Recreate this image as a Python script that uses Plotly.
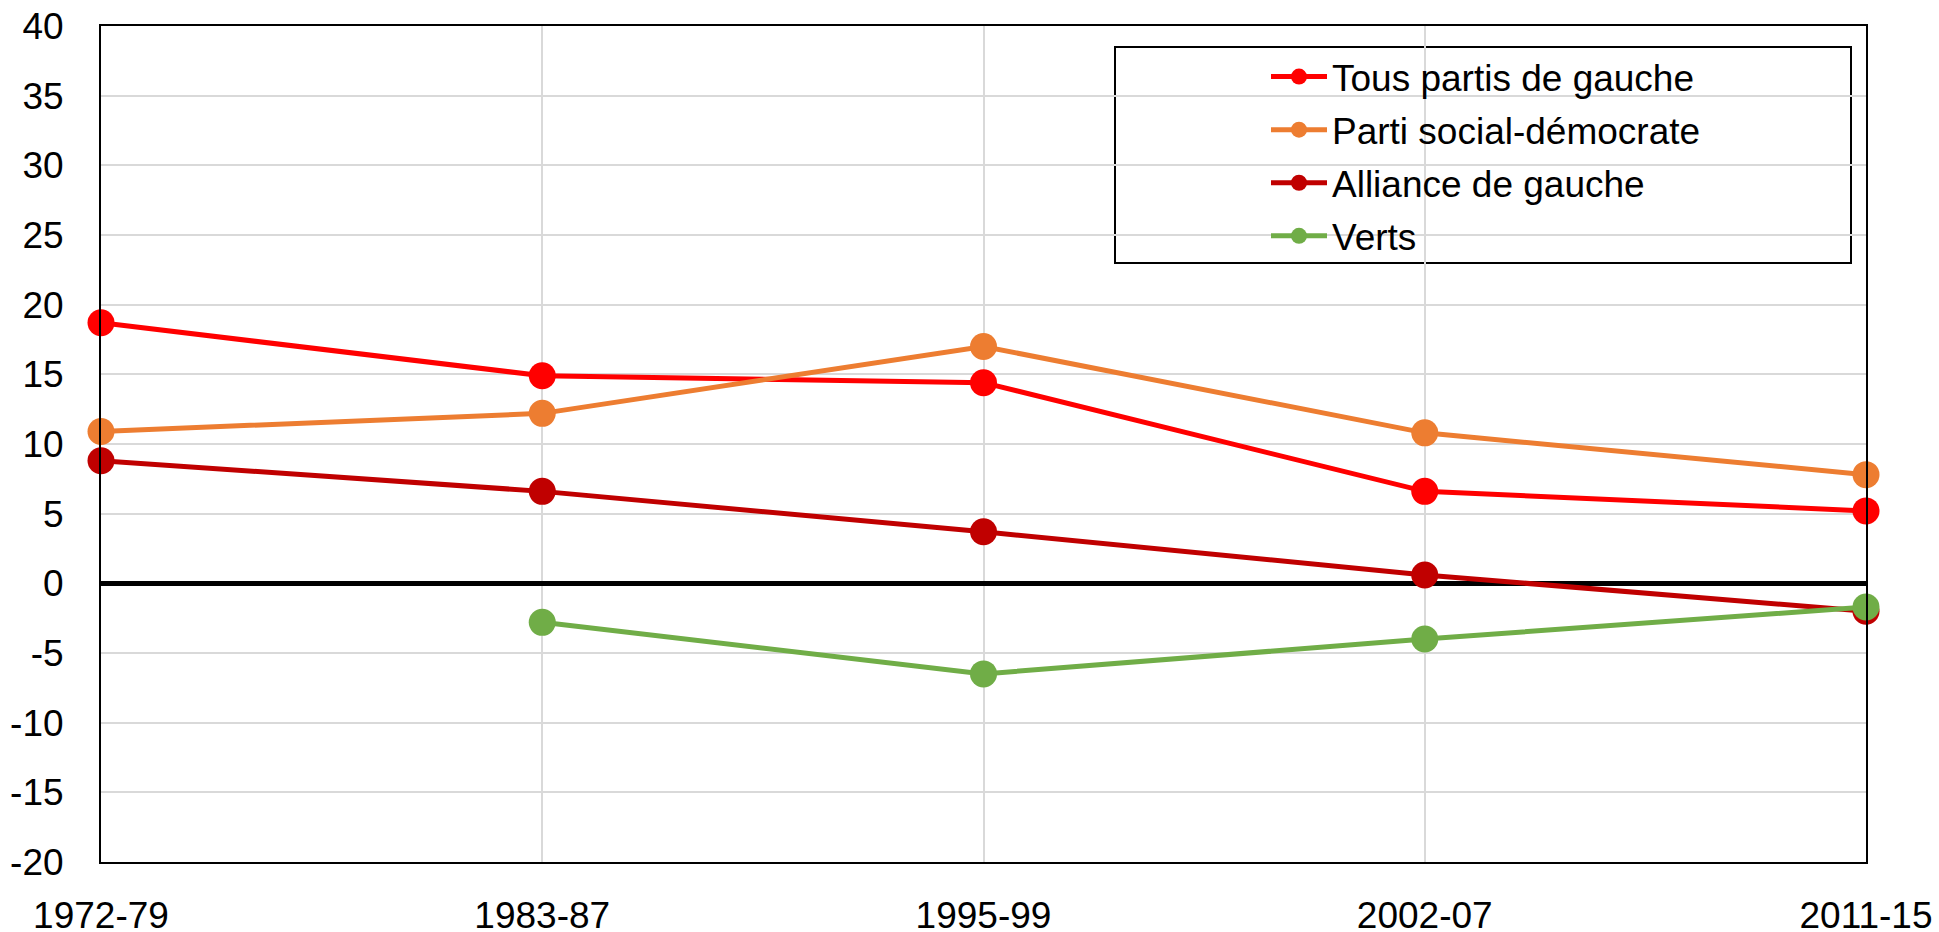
import plotly.graph_objects as go

# Periods on the horizontal axis
periods = ["1972-79", "1983-87", "1995-99", "2002-07", "2011-15"]

# Series values (percentage points)
tous_partis = [18.7, 14.9, 14.4, 6.6, 5.2]
social_dem = [10.9, 12.2, 17.0, 10.8, 7.8]
alliance = [8.8, 6.6, 3.7, 0.6, -2.0]
verts = [None, -2.8, -6.5, -4.0, -1.7]

# Y-axis ticks (plain hyphen for negatives)
y_ticks = list(range(-20, 45, 5))
y_tick_labels = [str(v) for v in y_ticks]

series_names = ["Tous partis de gauche", "Parti social-démocrate", "Alliance de gauche", "Verts"]
series_values = [tous_partis, social_dem, alliance, verts]
series_colors = ["#ff0000", "#ed7d31", "#c00000", "#70ad47"]

FONT = "Liberation Sans, Arial, sans-serif"
FS = 37

PL, PR, PT, PB = 101, 1866, 26, 862
PW, PH = PR - PL, PB - PT

fig = go.Figure()
for i, (name, vals, col) in enumerate(zip(series_names, series_values, series_colors)):
    fig.add_trace(go.Scatter(
        x=periods, y=vals, name=name, mode="lines+markers",
        line=dict(color=col, width=5),
        marker=dict(color=col, size=27),
        cliponaxis=False, legendgroup=f"g{i}",
    ))

# Legend frame
fig.add_shape(type="rect", xref="paper", yref="paper",
              x0=(1115 - PL) / PW, x1=(1851 - PL) / PW,
              y0=(PB - 263) / PH, y1=(PB - 47) / PH,
              line=dict(color="black", width=2), fillcolor="white", layer="below")

fig.update_layout(
    width=1939, height=932,
    margin=dict(l=PL, r=1939 - PR, t=PT, b=932 - PB, autoexpand=False),
    paper_bgcolor="white", plot_bgcolor="white",
    font=dict(family=FONT, size=FS, color="black"),
    showlegend=True,
    legend=dict(
        x=(1266 - PL) / PW, y=(PB - 46) / PH, xanchor="left", yanchor="top",
        bgcolor="rgba(0,0,0,0)", borderwidth=0,
        font=dict(family=FONT, size=FS, color="black"),
        itemwidth=56, tracegroupgap=2,
    ),
    xaxis=dict(
        type="category", range=[0, 4], automargin=False,
        showgrid=True, gridcolor="#d9d9d9", gridwidth=2,
        showline=True, linecolor="black", linewidth=2, mirror=True,
        ticks="", ticklabelstandoff=20,
        tickfont=dict(family=FONT, size=FS, color="black"),
    ),
    yaxis=dict(
        range=[-20, 40], automargin=False,
        tickmode="array", tickvals=y_ticks, ticktext=y_tick_labels,
        showgrid=True, gridcolor="#d9d9d9", gridwidth=2,
        showline=True, linecolor="black", linewidth=2, mirror=True,
        zeroline=True, zerolinecolor="black", zerolinewidth=5,
        ticks="", ticklabelstandoff=28,
        tickfont=dict(family=FONT, size=FS, color="black"),
    ),
)

fig.write_html("out.html")
